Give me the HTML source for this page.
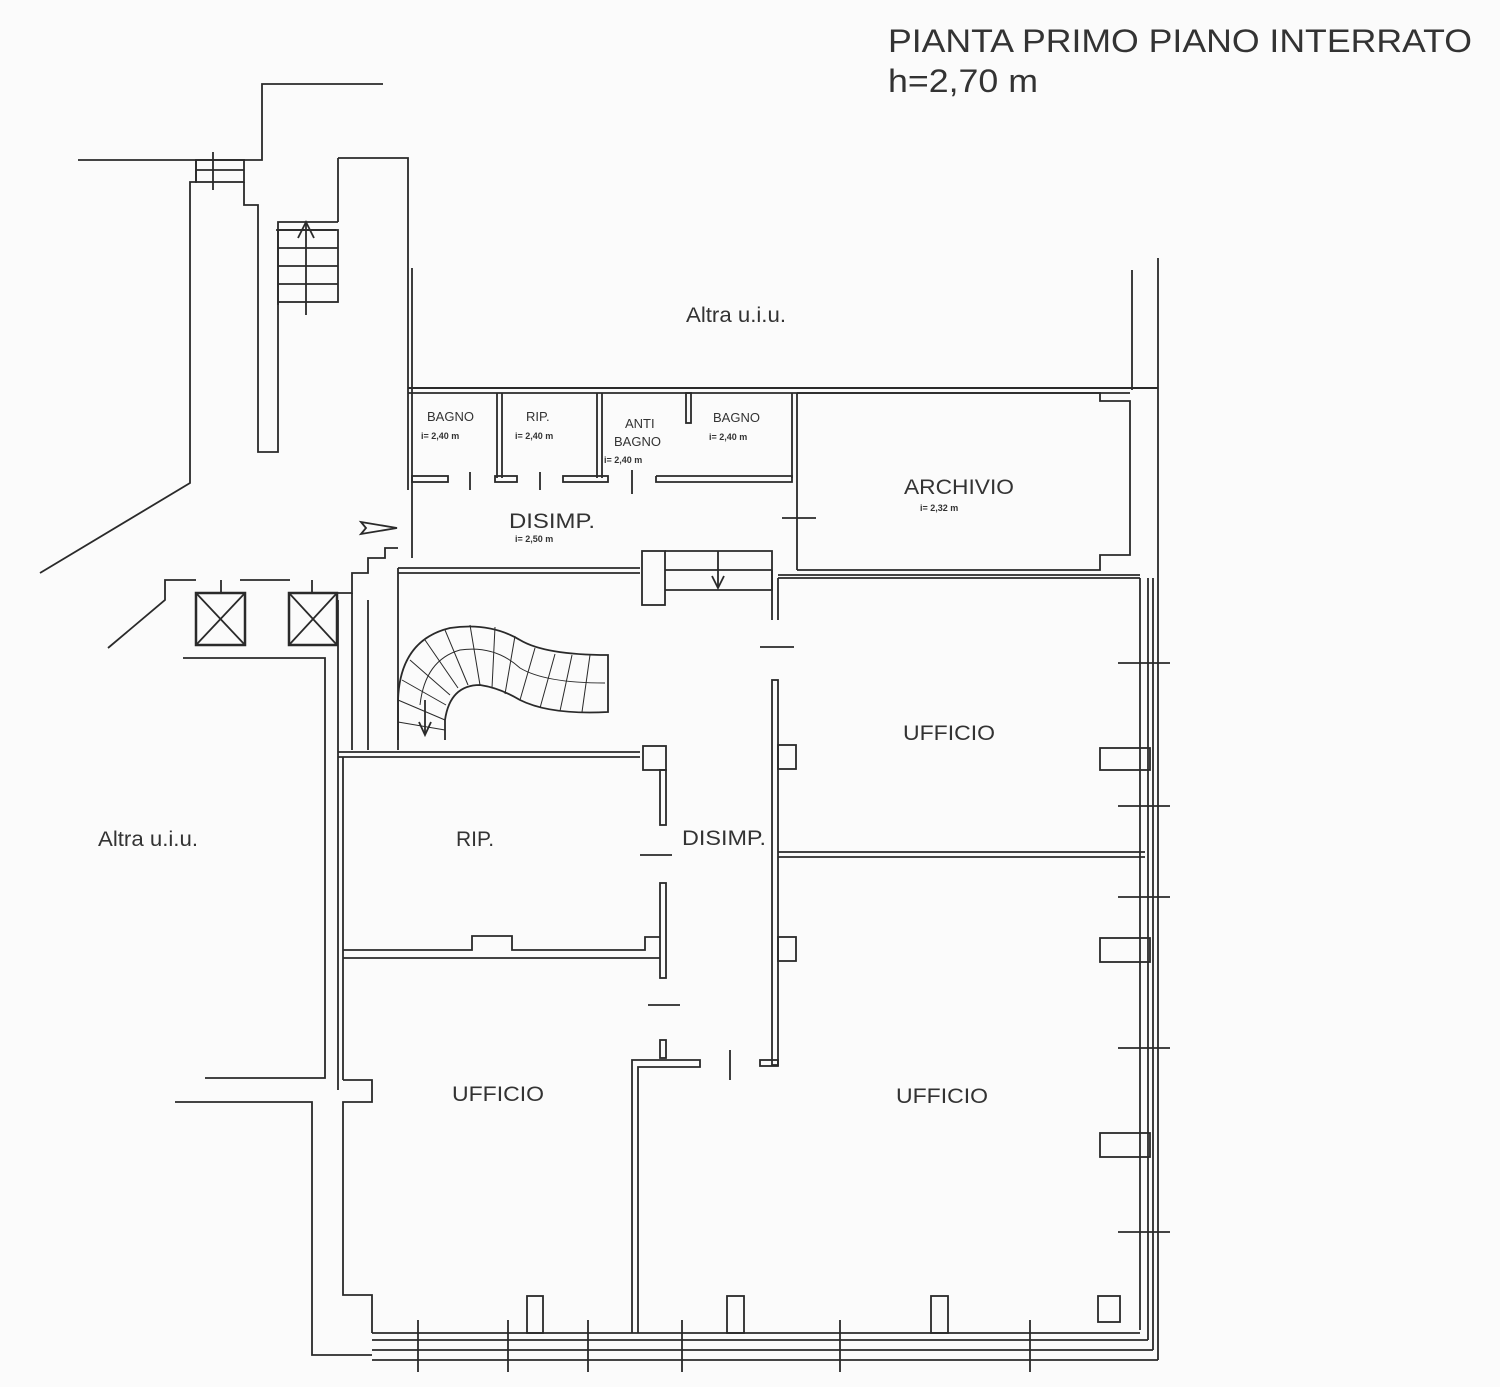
<!DOCTYPE html>
<html><head><meta charset="utf-8"><style>
html,body{margin:0;padding:0;background:#fbfbfb;}
svg{display:block}
text{font-family:"Liberation Sans",sans-serif;fill:#333}
</style></head><body>
<svg width="1500" height="1387" viewBox="0 0 1500 1387" xmlns="http://www.w3.org/2000/svg">
<rect width="1500" height="1387" fill="#fbfbfb"/>
<text x="888" y="52" font-size="32" textLength="584" lengthAdjust="spacingAndGlyphs">PIANTA PRIMO PIANO INTERRATO</text>
<text x="888" y="92" font-size="32" textLength="150" lengthAdjust="spacingAndGlyphs">h=2,70 m</text>
<g fill="none" stroke="#2a2a2a" stroke-width="1.8">
<polyline points="78,160 262,160 262,84 383,84"/>
<polyline points="196,160 196,182 190,182 190,483 40,573"/>
<rect x="196" y="160" width="48" height="22"/>
<line x1="213" y1="152" x2="213" y2="190"/><line x1="196" y1="170" x2="244" y2="170"/>
<polyline points="244,182 244,205 258,205 258,452 278,452 278,302"/>
<polyline points="338,158 408,158 408,490"/>
<polyline points="278,305 278,222 338,222"/>
<polyline points="276,230 336,230"/>
<rect x="278" y="230" width="60" height="72"/>
<line x1="278" y1="248" x2="338" y2="248"/><line x1="278" y1="266" x2="338" y2="266"/><line x1="278" y1="284" x2="338" y2="284"/>
<line x1="306" y1="222" x2="306" y2="315"/><polyline points="298,238 306,222 314,238"/>
<line x1="338" y1="158" x2="338" y2="222"/>
<polygon points="361,522 397,528 361,534 366,528"/>
<polyline points="108,648 165,600 165,580 196,580"/>
<polyline points="240,580 290,580"/>
<polyline points="337,593 352,593 352,573 368,573 368,558 385,558 385,548 398,548"/>
<rect x="196" y="593" width="49" height="52" stroke-width="2.5"/>
<line x1="196" y1="593" x2="245" y2="645"/><line x1="245" y1="593" x2="196" y2="645"/>
<rect x="289" y="593" width="48" height="52" stroke-width="2.5"/>
<line x1="289" y1="593" x2="337" y2="645"/><line x1="337" y1="593" x2="289" y2="645"/>
<line x1="221" y1="580" x2="221" y2="593"/><line x1="312" y1="580" x2="312" y2="593"/>
<polyline points="183,658 325,658 325,1078 205,1078"/>
<polyline points="175,1102 312,1102 312,1355 372,1355"/>
<line x1="338" y1="600" x2="338" y2="1090"/>
<line x1="368" y1="600" x2="368" y2="750"/>
<line x1="352" y1="593" x2="352" y2="750"/>
<line x1="412" y1="268" x2="412" y2="490"/>
<line x1="1132" y1="270" x2="1132" y2="390"/>
<line x1="1158" y1="258" x2="1158" y2="1360"/>
<line x1="408" y1="388" x2="1158" y2="388" stroke-width="2"/>
<line x1="408" y1="393" x2="1130" y2="393"/>
<line x1="497" y1="393" x2="497" y2="478"/><line x1="502" y1="393" x2="502" y2="478"/>
<line x1="597" y1="393" x2="597" y2="478"/><line x1="602" y1="393" x2="602" y2="478"/>
<rect x="686" y="393" width="5" height="30"/>
<line x1="792" y1="393" x2="792" y2="478"/><line x1="797" y1="393" x2="797" y2="570"/>
<rect x="412" y="476" width="36" height="6"/>
<line x1="470" y1="472" x2="470" y2="490"/>
<rect x="495" y="476" width="22" height="6"/>
<line x1="540" y1="472" x2="540" y2="490"/>
<rect x="563" y="476" width="45" height="6"/>
<line x1="632" y1="470" x2="632" y2="494"/>
<polyline points="656,476 792,476 792,482 656,482 656,476"/>
<line x1="412" y1="490" x2="412" y2="558"/>
<polyline points="797,393 1100,393 1100,401 1130,401 1130,555 1100,555 1100,570 797,570"/>
<line x1="782" y1="518" x2="816" y2="518"/>
<polyline points="398,573 640,573"/><line x1="398" y1="568" x2="640" y2="568"/>
<line x1="398" y1="568" x2="398" y2="750"/>
<rect x="642" y="551" width="23" height="54"/>
<polyline points="665,551 772,551 772,590 665,590"/>
<line x1="665" y1="570" x2="772" y2="570"/>
<line x1="718" y1="551" x2="718" y2="588"/><polyline points="712,576 718,588 724,576"/>
<line x1="772" y1="570" x2="772" y2="620"/><line x1="778" y1="578" x2="778" y2="620"/>
<line x1="778" y1="578" x2="1140" y2="578"/><line x1="778" y1="575" x2="1140" y2="575"/>
<line x1="760" y1="647" x2="794" y2="647"/>
<rect x="772" y="680" width="6" height="385"/>
<rect x="760" y="1060" width="18" height="6"/>
<line x1="730" y1="1050" x2="730" y2="1080"/>
<path d="M398,740 L398,700 Q400,640 450,628 Q490,622 520,640 Q545,655 608,655 L608,712 Q550,715 520,700 Q500,688 480,685 Q450,685 445,720 L445,740"/>
<path d="M420,705 Q425,660 460,650 Q495,645 520,668 Q545,683 605,683" stroke-width="1"/>
<g stroke-width="1">
<line x1="398" y1="700" x2="445" y2="720"/><line x1="402" y1="680" x2="446" y2="705"/>
<line x1="410" y1="660" x2="450" y2="695"/><line x1="425" y1="640" x2="458" y2="688"/>
<line x1="445" y1="630" x2="468" y2="685"/><line x1="470" y1="625" x2="480" y2="685"/>
<line x1="495" y1="627" x2="492" y2="688"/><line x1="515" y1="636" x2="505" y2="694"/>
<line x1="535" y1="648" x2="520" y2="700"/><line x1="555" y1="654" x2="540" y2="708"/>
<line x1="572" y1="655" x2="560" y2="711"/><line x1="590" y1="655" x2="582" y2="712"/>
<line x1="398" y1="722" x2="445" y2="730"/>
</g>
<line x1="425" y1="700" x2="425" y2="735"/><polyline points="419,722 425,735 431,722"/>
<polyline points="338,752 640,752"/><line x1="338" y1="757" x2="640" y2="757"/>
<rect x="643" y="746" width="23" height="24"/>
<rect x="660" y="770" width="6" height="55"/>
<line x1="640" y1="855" x2="672" y2="855"/>
<rect x="660" y="883" width="6" height="95"/>
<polyline points="343,950 472,950 472,936 512,936 512,950 645,950 645,937 660,937"/>
<line x1="343" y1="958" x2="660" y2="958"/>
<line x1="343" y1="757" x2="343" y2="1080"/>
<line x1="648" y1="1005" x2="680" y2="1005"/>
<rect x="660" y="1040" width="6" height="18"/>
<polyline points="632,1333 632,1060 700,1060 700,1067 638,1067 638,1333"/>
<polyline points="343,1080 372,1080 372,1102 343,1102 343,1295 372,1295 372,1333"/>
<rect x="527" y="1296" width="16" height="37"/>
<rect x="727" y="1296" width="17" height="37"/>
<rect x="931" y="1296" width="17" height="37"/>
<rect x="1098" y="1296" width="22" height="26"/>
<rect x="778" y="745" width="18" height="24"/>
<rect x="778" y="937" width="18" height="24"/>
<line x1="778" y1="852" x2="1145" y2="852"/><line x1="778" y1="857" x2="1145" y2="857"/>
<rect x="1100" y="748" width="50" height="22"/>
<rect x="1100" y="938" width="50" height="24"/>
<rect x="1100" y="1133" width="50" height="24"/>
<line x1="1140" y1="578" x2="1140" y2="1330"/>
<line x1="1148" y1="578" x2="1148" y2="1340"/>
<line x1="1153" y1="578" x2="1153" y2="1350"/>
<line x1="1118" y1="663" x2="1170" y2="663"/><line x1="1118" y1="806" x2="1170" y2="806"/>
<line x1="1118" y1="897" x2="1170" y2="897"/><line x1="1118" y1="1048" x2="1170" y2="1048"/>
<line x1="1118" y1="1232" x2="1170" y2="1232"/>
<line x1="372" y1="1333" x2="1140" y2="1333"/>
<line x1="372" y1="1340" x2="1148" y2="1340"/>
<line x1="372" y1="1350" x2="1153" y2="1350"/>
<line x1="372" y1="1360" x2="1158" y2="1360"/>
<line x1="418" y1="1320" x2="418" y2="1372"/><line x1="508" y1="1320" x2="508" y2="1372"/>
<line x1="588" y1="1320" x2="588" y2="1372"/><line x1="682" y1="1320" x2="682" y2="1372"/>
<line x1="840" y1="1320" x2="840" y2="1372"/><line x1="1030" y1="1320" x2="1030" y2="1372"/>
</g>
<g font-size="21">
<text x="686" y="322" textLength="100" lengthAdjust="spacingAndGlyphs">Altra u.i.u.</text>
<text x="98" y="846" textLength="100" lengthAdjust="spacingAndGlyphs">Altra u.i.u.</text>
<text x="456" y="846">RIP.</text>
<text x="682" y="845" textLength="84" lengthAdjust="spacingAndGlyphs">DISIMP.</text>
<text x="903" y="740" textLength="92" lengthAdjust="spacingAndGlyphs">UFFICIO</text>
<text x="452" y="1101" textLength="92" lengthAdjust="spacingAndGlyphs">UFFICIO</text>
<text x="896" y="1103" textLength="92" lengthAdjust="spacingAndGlyphs">UFFICIO</text>
<text x="904" y="494" textLength="110" lengthAdjust="spacingAndGlyphs">ARCHIVIO</text>
<text x="509" y="528" textLength="86" lengthAdjust="spacingAndGlyphs">DISIMP.</text>
</g>
<g font-size="13">
<text x="427" y="421">BAGNO</text><text x="526" y="421">RIP.</text>
<text x="625" y="428">ANTI</text><text x="614" y="446">BAGNO</text>
<text x="713" y="422">BAGNO</text>
</g>
<g font-size="9" font-weight="bold">
<text x="421" y="439">i= 2,40 m</text><text x="515" y="439">i= 2,40 m</text>
<text x="604" y="463">i= 2,40 m</text><text x="709" y="440">i= 2,40 m</text>
<text x="515" y="542">i= 2,50 m</text><text x="920" y="511">i= 2,32 m</text>
</g>
</svg>
</body></html>
